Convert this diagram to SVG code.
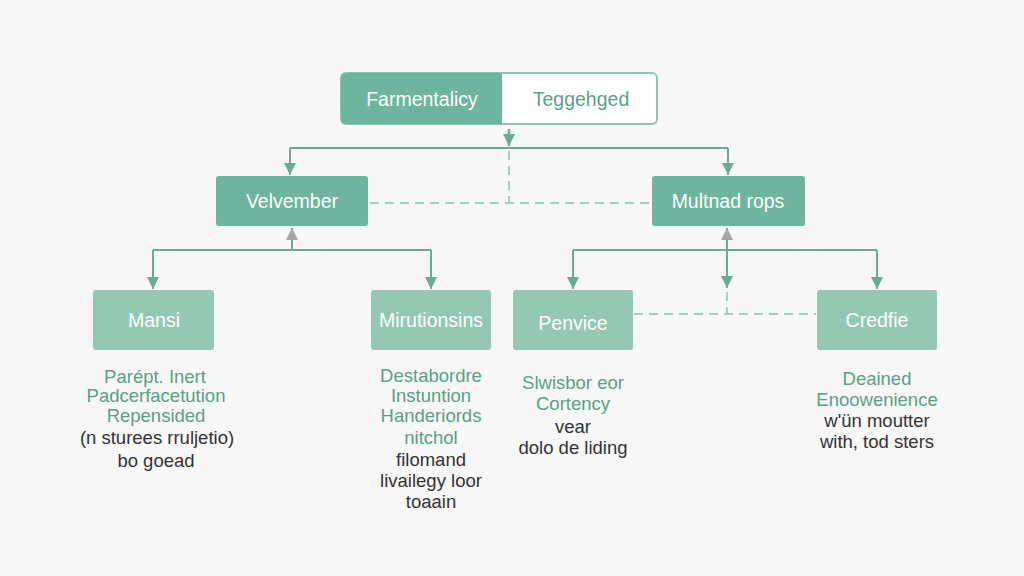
<svg xmlns="http://www.w3.org/2000/svg" width="1024" height="576" viewBox="0 0 1024 576">
<style>
.bg{fill:#f6f7f6}
.dark{fill:#6db59e}
.light{fill:#94c8b5}
.lbl{font-family:"Liberation Sans",Arial,sans-serif;font-size:19.5px;fill:#ffffff;text-anchor:middle;dominant-baseline:central}
.desc{font-family:"Liberation Sans",Arial,sans-serif;font-size:18.5px;text-anchor:middle}
.g{fill:#5a9f87}
.k{fill:#333333}
.ln{stroke:#6aab95;stroke-width:2;fill:none}
.ds{stroke:#a9cdc0;stroke-width:2;fill:none;stroke-dasharray:9 6}
</style>
<defs>
<marker id="ah" viewBox="0 0 10 10" refX="10" refY="5" markerWidth="12" markerHeight="14" markerUnits="userSpaceOnUse" orient="auto"><path d="M0,0 L10,5 L0,10 z" fill="#6aab95"/></marker>
<marker id="ag" viewBox="0 0 10 10" refX="10" refY="5" markerWidth="12" markerHeight="14" markerUnits="userSpaceOnUse" orient="auto"><path d="M0,0 L10,5 L0,10 z" fill="#a5a5a5"/></marker>
</defs>
<rect class="bg" x="0" y="0" width="1024" height="576"/>
<g id="connectors">
<path class="ln" d="M509,129 V146" marker-end="url(#ah)" style="stroke-width:2.5"/>
<path class="ln" d="M290,148 H728"/>
<path class="ln" d="M290,148 V175" marker-end="url(#ah)"/>
<path class="ln" d="M728,148 V175" marker-end="url(#ah)"/>
<path class="ds" d="M509,151 V203"/>
<path class="ds" d="M370,203 H650"/>
<path class="ln" d="M292,250 V228" marker-end="url(#ag)"/>
<path class="ln" d="M153,250 H431"/>
<path class="ln" d="M153,250 V289" marker-end="url(#ah)"/>
<path class="ln" d="M431,250 V289" marker-end="url(#ah)"/>
<path class="ln" d="M727,250 V228" marker-end="url(#ag)"/>
<path class="ln" d="M727,250 V288" marker-end="url(#ah)"/>
<path class="ln" d="M573,250 H877"/>
<path class="ln" d="M573,250 V289" marker-end="url(#ah)"/>
<path class="ln" d="M877,250 V289" marker-end="url(#ah)"/>
<path class="ds" d="M727,292 V314"/>
<path class="ds" d="M634,314 H816"/>
</g>
<g id="top">
<rect x="341" y="73" width="316" height="51" rx="5" fill="#ffffff" stroke="#8fc4b1" stroke-width="2"/>
<path d="M346,73 H502 V124 H346 Q341,124 341,119 V78 Q341,73 346,73 z" class="dark"/>
<text class="lbl" x="422" y="99">Farmentalicy</text>
<text class="lbl" x="581" y="99" style="fill:#5e9e88">Teggehged</text>
</g>
<g id="velvember">
<rect class="dark" x="216" y="176" width="152" height="50" rx="3"/>
<text class="lbl" x="292" y="201">Velvember</text>
</g>
<g id="multnad">
<rect class="dark" x="652" y="176" width="153" height="50" rx="3"/>
<text class="lbl" x="728" y="201">Multnad rops</text>
</g>
<g id="mansi">
<rect class="light" x="93" y="290" width="121" height="60" rx="3"/>
<text class="lbl" x="154" y="320">Mansi</text>
<text class="desc g" x="155" y="383">Parépt. Inert</text>
<text class="desc g" x="156" y="402">Padcerfacetution</text>
<text class="desc g" x="156" y="422">Repensided</text>
<text class="desc k" x="157" y="444">(n sturees rruljetio)</text>
<text class="desc k" x="156" y="467">bo goead</text>
</g>
<g id="mirutionsins">
<rect class="light" x="371" y="290" width="120" height="60" rx="3"/>
<text class="lbl" x="431" y="320">Mirutionsins</text>
<text class="desc g" x="431" y="382">Destabordre</text>
<text class="desc g" x="431" y="402">Instuntion</text>
<text class="desc g" x="431" y="422">Handeriords</text>
<text class="desc g" x="431" y="444">nitchol</text>
<text class="desc k" x="431" y="466">filomand</text>
<text class="desc k" x="431" y="487">livailegy loor</text>
<text class="desc k" x="431" y="508">toaain</text>
</g>
<g id="penvice">
<rect class="light" x="513" y="290" width="120" height="60" rx="3"/>
<text class="lbl" x="573" y="323">Penvice</text>
<text class="desc g" x="573" y="389">Slwisbor eor</text>
<text class="desc g" x="573" y="410">Cortency</text>
<text class="desc k" x="573" y="433">vear</text>
<text class="desc k" x="573" y="454">dolo de liding</text>
</g>
<g id="credfie">
<rect class="light" x="817" y="290" width="120" height="60" rx="3"/>
<text class="lbl" x="877" y="320">Credfie</text>
<text class="desc g" x="877" y="385">Deained</text>
<text class="desc g" x="877" y="406">Enoowenience</text>
<text class="desc k" x="877" y="427">w'ün moutter</text>
<text class="desc k" x="877" y="448">with, tod sters</text>
</g>
</svg>
